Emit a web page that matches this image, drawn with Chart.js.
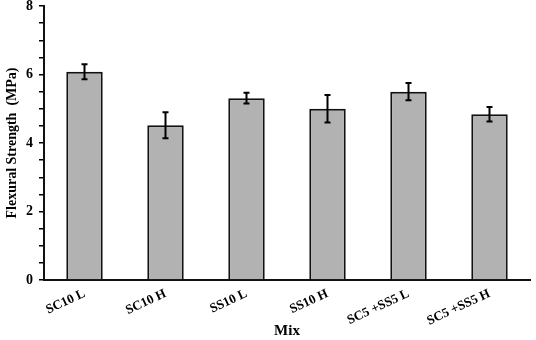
<!DOCTYPE html>
<html>
<head>
<meta charset="utf-8">
<script src="https://cdn.jsdelivr.net/npm/chart.js@4/dist/chart.umd.min.js"></script>
<style>
html,body{margin:0;padding:0;background:#fff;}
#wrap{width:536px;height:340px;}
</style>
</head>
<body>
<div id="wrap"><canvas id="c" width="536" height="340"></canvas></div>
<script>
const categories = ["SC10 L", "SC10 H", "SS10 L", "SS10 H", "SC5 +SS5 L", "SC5 +SS5 H"];
const strengthValues = [6.08, 4.52, 5.31, 5.0, 5.5, 4.84];
const strengthErrors = [0.22, 0.38, 0.16, 0.40, 0.25, 0.21];
const yTickLabels = [0, 2, 4, 6, 8];

const FONT = "'Liberation Serif', 'Times New Roman', serif";

const errorBarPlugin = {
  id: 'errorBars',
  afterDatasetsDraw(chart) {
    const ctx = chart.ctx;
    const meta = chart.getDatasetMeta(0);
    const ys = chart.scales.y;
    ctx.save();
    ctx.strokeStyle = '#000';
    ctx.lineWidth = 2;
    meta.data.forEach((bar, i) => {
      const v = strengthValues[i], e = strengthErrors[i];
      const x = bar.x;
      const yt = ys.getPixelForValue(v + e);
      const yb = ys.getPixelForValue(v - e);
      ctx.beginPath();
      ctx.moveTo(x, yt); ctx.lineTo(x, yb);
      ctx.moveTo(x - 3, yt); ctx.lineTo(x + 3, yt);
      ctx.moveTo(x - 3, yb); ctx.lineTo(x + 3, yb);
      ctx.stroke();
    });
    ctx.restore();
  }
};

new Chart(document.getElementById('c'), {
  type: 'bar',
  data: {
    labels: categories,
    datasets: [{
      data: strengthValues,
      backgroundColor: '#b2b2b2',
      borderColor: '#111',
      borderWidth: 2,
      borderSkipped: 'bottom',
      categoryPercentage: 0.9,
      barPercentage: 0.5
    }]
  },
  options: {
    responsive: false,
    animation: false,
    devicePixelRatio: 1,
    layout: { padding: { top: 6, right: 6, left: 4, bottom: 0 } },
    plugins: { legend: { display: false }, tooltip: { enabled: false } },
    scales: {
      x: {
        afterFit: (s) => { s.height = 60; },
        grid: { display: false, drawTicks: false },
        border: { display: true, color: '#111', width: 2 },
        ticks: {
          color: '#000',
          font: { family: FONT, size: 13, weight: 'bold' },
          maxRotation: 25, minRotation: 25,
          padding: 6
        },
        title: {
          display: true, text: 'Mix', color: '#000',
          font: { family: FONT, size: 15, weight: 'bold' },
          padding: { top: 0, bottom: 0 }
        }
      },
      y: {
        min: 0, max: 8,
        afterFit: (s) => { s.width = 40; s.paddingTop = 0; },
        grid: { display: true, drawOnChartArea: false, drawTicks: true, tickLength: 5, color: '#000', lineWidth: 1.5 },
        border: { display: true, color: '#111', width: 2 },
        ticks: {
          stepSize: 0.5,
          autoSkip: false,
          color: '#000',
          font: { family: FONT, size: 14, weight: 'bold' },
          padding: 6,
          callback: (v) => yTickLabels.includes(v) ? String(v) : ''
        },
        title: {
          display: true, text: 'Flexural Strength  (MPa)', color: '#000',
          font: { family: FONT, size: 14, weight: 'bold' },
          padding: { top: 0, bottom: 2 }
        }
      }
    }
  },
  plugins: [errorBarPlugin]
});
</script>
</body>
</html>
